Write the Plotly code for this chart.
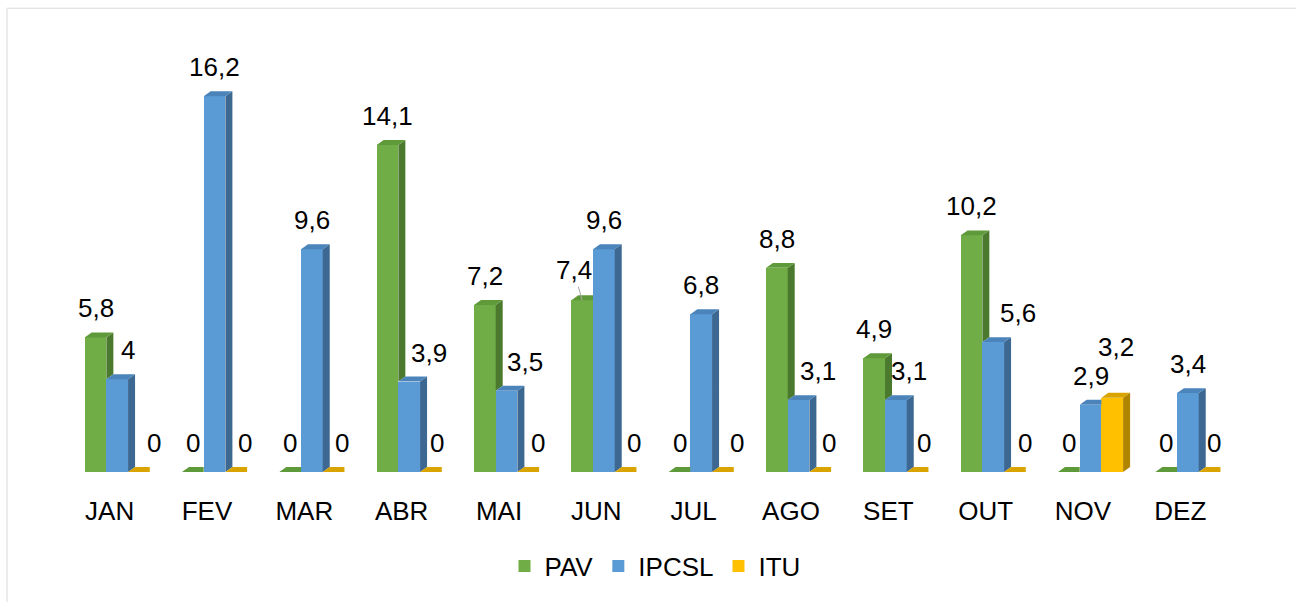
import plotly.graph_objects as go

# ---------------- data ----------------
months = ["JAN", "FEV", "MAR", "ABR", "MAI", "JUN", "JUL", "AGO", "SET", "OUT", "NOV", "DEZ"]
pav = [5.8, 0, 0, 14.1, 7.2, 7.4, 0, 8.8, 4.9, 10.2, 0, 0]
ipcsl = [4, 16.2, 9.6, 3.9, 3.5, 9.6, 6.8, 3.1, 3.1, 5.6, 2.9, 3.4]
itu = [0, 0, 0, 0, 0, 0, 0, 0, 0, 0, 3.2, 0]
series_names = ["PAV", "IPCSL", "ITU"]

# ---------------- style ----------------
W, H = 1296, 602
PLOT_L, PLOT_R, PLOT_T, BASE = 61, 1229, 31, 476
ML, MR, MT, MB = PLOT_L, W - PLOT_R, PLOT_T, H - BASE
PLOT_W = PLOT_R - PLOT_L
PLOT_H = BASE - PLOT_T
YMAX = PLOT_H / 23.41
PX_X = PLOT_W / 12.0
PX_Y = PLOT_H / YMAX
BAR_W = 0.223
FIRST_LEFT = -0.257
DX = 7 / PX_X      # depth (x) in axis units
DY = 5 / PX_Y      # depth (y) in axis units
FONT = "Liberation Sans, Arial, sans-serif"
FS = 26

front_cols = ["#70AD47", "#5B9BD5", "#FFC000"]
side_cols = ["#4B7A2E", "#3C6891", "#B08400"]
top_cols = ["#5F9A3A", "#4A84BB", "#D9A300"]

# label offsets (pixels) relative to the front face centre, per series / month
lab_dx = [
    [0, 0, 0, 0, 0, -8.5, 0, 0, 0, 0, 0, 0],
    [11, 0, 0, 20, 18.5, 0, 0, 19, 13, 25, 0, 0],
    [15, 8.5, 8.5, 6.5, 10, 8.5, 14.5, 8.5, 6.5, 10, 4, 4.5],
]
lab_dy = [
    [0] * 12,
    [0] * 12,
    [0, 0, 0, 0, 0, 0, 0, 0, 0, 0, 22, 0],
]
LAB_BASE_SHIFT = 12


def fmt(v):
    return f"{v:g}".replace(".", ",")


values = [pav, ipcsl, itu]
fig = go.Figure()

# front faces as bars
for s, (name, vals) in enumerate(zip(series_names, values)):
    xs = [i + FIRST_LEFT + BAR_W * s + BAR_W / 2 for i in range(len(months))]
    fig.add_trace(go.Bar(
        x=xs, y=vals, width=BAR_W, name=name,
        marker=dict(color=front_cols[s], line=dict(width=0)),
        hoverinfo="skip",
    ))

# side and top faces (3D look)
for s, vals in enumerate(values):
    nxt = values[s + 1] if s + 1 < len(values) else None
    sx, sy, tx, ty = [], [], [], []
    for i, v in enumerate(vals):
        xl = i + FIRST_LEFT + BAR_W * s
        xr = xl + BAR_W
        vn = nxt[i] if nxt is not None else 0
        if vn < v:
            sx += [xr, xr + DX, xr + DX, xr, xr, None]
            sy += [vn, vn + DY, v + DY, v, vn, None]
            tx += [xl, xr, xr + DX, xl + DX, xl, None]
            ty += [v, v, v + DY, v + DY, v, None]
        else:
            tx += [xl, xr, xr, xl + DX, xl, None]
            ty += [v, v, v + DY, v + DY, v, None]
    fig.add_trace(go.Scatter(x=sx, y=sy, mode="lines", fill="toself",
                             fillcolor=side_cols[s], line=dict(width=0, color=side_cols[s]),
                             showlegend=False, hoverinfo="skip"))
    fig.add_trace(go.Scatter(x=tx, y=ty, mode="lines", fill="toself",
                             fillcolor=top_cols[s], line=dict(width=0, color=top_cols[s]),
                             showlegend=False, hoverinfo="skip"))

# data labels
annotations = []
for s, vals in enumerate(values):
    for i, v in enumerate(vals):
        xc = i + FIRST_LEFT + BAR_W * s + BAR_W / 2
        if s == 0 and months[i] == "JUN":
            annotations.append(dict(
                x=xc, y=v, text=fmt(v), showarrow=True, arrowhead=0,
                arrowwidth=1, arrowcolor="#A6A6A6", ax=-8.5, ay=-30, standoff=0,
                font=dict(family=FONT, size=FS, color="#000000")))
            continue
        annotations.append(dict(
            x=xc, y=v, text=fmt(v), showarrow=False, yanchor="bottom",
            xanchor="center", xshift=lab_dx[s][i],
            yshift=LAB_BASE_SHIFT + lab_dy[s][i],
            font=dict(family=FONT, size=FS, color="#000000")))

# outer chart border (top and left visible)
shapes = [dict(type="rect", xref="paper", yref="paper",
               x0=(7 - ML) / PLOT_W, x1=1.5, y0=-1.0, y1=(BASE - 8) / PLOT_H,
               line=dict(color="#D9D9D9", width=1), fillcolor="rgba(0,0,0,0)",
               layer="below")]

fig.update_layout(
    width=W, height=H,
    margin=dict(l=ML, r=MR, t=MT, b=MB),
    paper_bgcolor="white", plot_bgcolor="white",
    barmode="overlay", bargap=0,
    showlegend=True,
    legend=dict(orientation="h", x=(655 - ML) / PLOT_W, xanchor="center",
                y=(BASE - 571) / PLOT_H,
                yanchor="middle", font=dict(family=FONT, size=FS, color="#000000"),
                traceorder="normal"),
    xaxis=dict(range=[-0.5, 11.5], tickmode="array", tickvals=list(range(12)),
               ticktext=months, showgrid=False, zeroline=False, showline=False,
               ticks="", tickfont=dict(family=FONT, size=FS, color="#000000"),
               ticklabelstandoff=21, fixedrange=True),
    yaxis=dict(range=[0, YMAX], visible=False, showgrid=False, zeroline=False,
               fixedrange=True),
    annotations=annotations,
    shapes=shapes,
    font=dict(family=FONT),
)

fig.write_html(
    "out.html",
    config={"displayModeBar": False, "staticPlot": False},
    post_script=("document.body.style.margin='0';"
                 "document.body.style.overflow='hidden';"
                 "document.documentElement.style.overflow='hidden';"),
)
